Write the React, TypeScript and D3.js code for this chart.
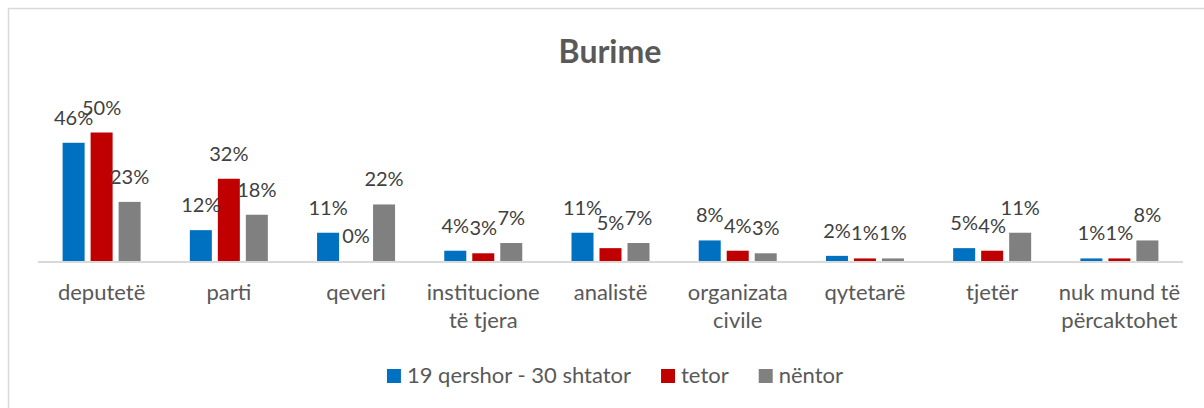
import React, { useEffect, useRef } from "react";
import * as d3 from "d3";

const categories = [
  "deputetë",
  "parti",
  "qeveri",
  "institucione\ntë tjera",
  "analistë",
  "organizata\ncivile",
  "qytetarë",
  "tjetër",
  "nuk mund të\npërcaktohet",
];
const seriesNames = ["19 qershor - 30 shtator", "tetor", "nëntor"];
const colors = ["#0070C0", "#C00000", "#808080"];
const qershorShtator = [0.46, 0.12, 0.11, 0.04, 0.11, 0.08, 0.02, 0.05, 0.01];
const tetor = [0.5, 0.32, 0.0, 0.03, 0.05, 0.04, 0.01, 0.04, 0.01];
const nentor = [0.23, 0.18, 0.22, 0.07, 0.07, 0.03, 0.01, 0.11, 0.08];
const seriesValues = [qershorShtator, tetor, nentor];

const width = 1204;
const height = 408;
const font = "Lato, 'Open Sans', sans-serif";

export default function App() {
  const ref = useRef<SVGSVGElement>(null);

  useEffect(() => {
    const svg = d3.select(ref.current);
    svg.selectAll("*").remove();

    // chart frame (runs off the right and bottom of the picture)
    svg
      .append("rect")
      .attr("x", 8.5)
      .attr("y", 8.5)
      .attr("width", 1300)
      .attr("height", 500)
      .attr("fill", "#fff")
      .attr("stroke", "#D9D9D9")
      .attr("stroke-width", 1.5);

    svg
      .append("text")
      .attr("x", 610)
      .attr("y", 63)
      .attr("text-anchor", "middle")
      .style("font-family", font)
      .style("font-weight", "bold")
      .style("font-size", "32px")
      .attr("fill", "#595959")
      .text("Burime");

    const x = d3.scaleBand().domain(categories).range([38, 1183]);
    const groupW = 78;
    const sub = d3
      .scaleBand()
      .domain(seriesNames)
      .range([(x.bandwidth() - groupW) / 2, (x.bandwidth() + groupW) / 2])
      .paddingInner(0.214);
    const y = d3.scaleLinear().domain([0, 0.6]).range([261, 106.8]);

    const rows = categories.flatMap((c, i) =>
      seriesNames.map((s, j) => ({ c, s, j, v: seriesValues[j][i] }))
    );

    svg
      .append("g")
      .selectAll("rect")
      .data(rows)
      .join("rect")
      .attr("x", (d) => x(d.c)! + sub(d.s)!)
      .attr("width", sub.bandwidth())
      .attr("y", (d) => y(d.v))
      .attr("height", (d) => y(0) - y(d.v))
      .attr("fill", (d) => colors[d.j]);

    // axis line
    svg
      .append("line")
      .attr("x1", 38)
      .attr("x2", 1183)
      .attr("y1", y(0) + 1)
      .attr("y2", y(0) + 1)
      .attr("stroke", "#D9D9D9")
      .attr("stroke-width", 2);

    // data labels
    svg
      .append("g")
      .selectAll("text")
      .data(rows)
      .join("text")
      .attr("x", (d) => x(d.c)! + sub(d.s)! + sub.bandwidth() / 2)
      .attr("y", (d) => y(d.v) - 18)
      .attr("text-anchor", "middle")
      .style("font-family", font)
      .style("font-size", "20px")
      .attr("fill", "#404040")
      .text((d) => d3.format(".0%")(d.v));

    // category labels
    const ticks = svg
      .append("g")
      .selectAll("text")
      .data(categories)
      .join("text")
      .attr("x", (d) => x(d)! + x.bandwidth() / 2)
      .attr("y", 300)
      .attr("text-anchor", "middle")
      .style("font-family", font)
      .style("font-size", "22px")
      .attr("fill", "#595959");
    ticks
      .selectAll("tspan")
      .data((d) => d.split("\n"))
      .join("tspan")
      .attr("x", function () {
        return (this.parentNode as SVGTextElement).getAttribute("x");
      })
      .attr("dy", (_, i) => (i === 0 ? 0 : 28))
      .text((d) => d);

    // legend
    const legend = svg.append("g");
    let cx = 0;
    seriesNames.forEach((s, i) => {
      const item = legend.append("g").attr("transform", `translate(${cx},0)`);
      item
        .append("rect")
        .attr("x", 0)
        .attr("y", 369)
        .attr("width", 14)
        .attr("height", 14)
        .attr("fill", colors[i]);
      const t = item
        .append("text")
        .attr("x", 20)
        .attr("y", 383)
        .style("font-family", font)
        .style("font-size", "22px")
        .attr("fill", "#595959")
        .text(s);
      cx += 20 + (t.node() as SVGTextElement).getComputedTextLength() + 30;
    });
    const total = cx - 30;
    legend.attr("transform", `translate(${615 - total / 2},0)`);
  }, []);

  return (
    <svg
      ref={ref}
      width={width}
      height={height}
      style={{ position: "absolute", left: 0, top: 0, background: "#fff" }}
    />
  );
}
